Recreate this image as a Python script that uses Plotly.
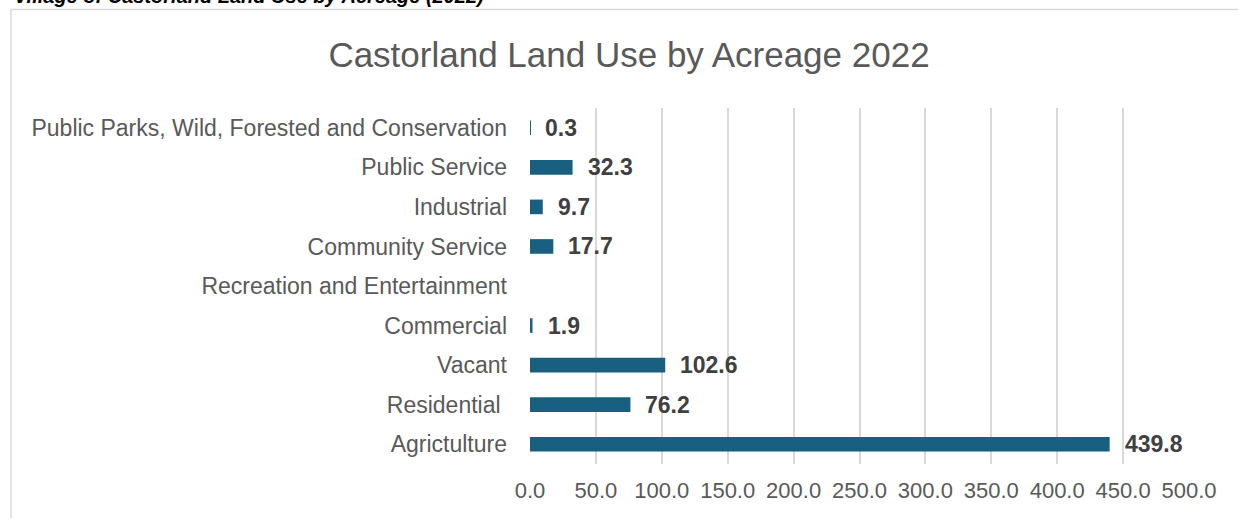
import plotly.graph_objects as go

# Land use categories, listed bottom to top
categories = [
    "Agrictulture",
    "Residential ",
    "Vacant",
    "Commercial",
    "Recreation and Entertainment",
    "Community Service",
    "Industrial",
    "Public Service",
    "Public Parks, Wild, Forested and Conservation",
]
acres = [439.8, 76.2, 102.6, 1.9, None, 17.7, 9.7, 32.3, 0.3]
x_ticks = [0, 50, 100, 150, 200, 250, 300, 350, 400, 450, 500]

W, H = 1238, 518
L, R, T, B = 530, 49, 108, 54
PW, PH = W - L - R, H - T - B


def px_x(px):
    return (px - L) / PW


def px_y(py):
    return 1 - (py - T) / PH


BAR = "#185f80"
GRID = "#d9d9d9"
TXT = "#595959"
FONT = "Liberation Sans, Arial, sans-serif"

fig = go.Figure(
    go.Bar(
        x=acres,
        y=categories,
        orientation="h",
        marker=dict(color=BAR, line=dict(width=0)),
        width=0.37,
        hoverinfo="x+y",
    )
)

# value labels to the right of each bar
for cat, v in zip(categories, acres):
    if v is None:
        continue
    fig.add_annotation(
        x=v, y=cat, xref="x", yref="y",
        text=f"<b>{v:.1f}</b>", showarrow=False,
        xanchor="left", yanchor="middle", xshift=13,
        font=dict(family=FONT, size=23, color="#404040"),
    )

# caption above the chart frame
fig.add_annotation(
    x=px_x(12), y=px_y(-4), xref="paper", yref="paper",
    text="<b><i>Village of Castorland Land Use by Acreage (2022)</i></b>",
    showarrow=False, xanchor="left", yanchor="middle",
    font=dict(family=FONT, size=20, color="#000000"),
)

# chart frame (left and top edges)
fig.add_shape(type="line", xref="paper", yref="paper",
              x0=px_x(11), x1=px_x(11), y0=px_y(9.5), y1=px_y(520),
              line=dict(color=GRID, width=1.5))
fig.add_shape(type="line", xref="paper", yref="paper",
              x0=px_x(11), x1=px_x(1240), y0=px_y(9.5), y1=px_y(9.5),
              line=dict(color=GRID, width=1.5))

fig.update_layout(
    width=W, height=H,
    margin=dict(l=L, r=R, t=T, b=B),
    paper_bgcolor="white", plot_bgcolor="white",
    showlegend=False,
    title=dict(
        text="Castorland Land Use by Acreage 2022",
        xref="container", x=629 / W, xanchor="center",
        yref="container", y=1 - 55 / H, yanchor="middle",
        font=dict(family=FONT, size=35, color=TXT),
    ),
    xaxis=dict(
        range=[0, 500], tickvals=x_ticks,
        ticktext=[f"{t:.1f}" for t in x_ticks],
        showgrid=True, gridcolor=GRID, gridwidth=1.5,
        zeroline=False, showline=False, ticks="",
        ticklabelstandoff=11,
        tickfont=dict(family=FONT, size=22, color=TXT),
        fixedrange=True,
    ),
    yaxis=dict(
        type="category", categoryorder="array", categoryarray=categories,
        showgrid=False, zeroline=False, showline=False, ticks="",
        ticklabelstandoff=22,
        tickfont=dict(family=FONT, size=23, color=TXT),
        fixedrange=True,
    ),
)

fig.write_html("out.html")
